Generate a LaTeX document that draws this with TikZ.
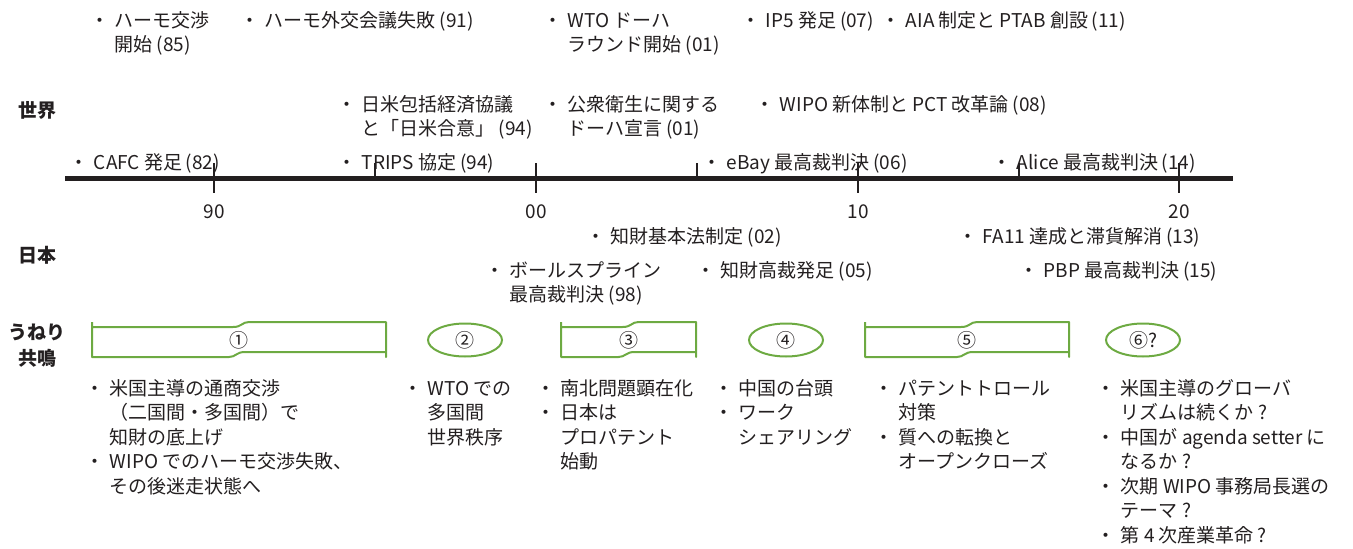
\documentclass[tikz,border=0pt]{standalone}
\usepackage{fontspec}
\usetikzlibrary{shapes.geometric}
\setmainfont{Noto Sans CJK JP}
\definecolor{rib}{HTML}{6DAA42}
\definecolor{ink}{HTML}{231F20}
\newcommand{\bl}{\rule{0pt}{17pt}・\hspace{0.3em}}
\newcommand{\ind}{\hphantom{・}\hspace{0.3em}}
\newcommand{\gp}{\hspace{0.22em}}
\newcommand{\yr}[1]{\hspace{0.2em}(#1)}
\newcommand{\myribbon}[5]{% name, L, R, cy, label
  \pgfmathsetmacro\rmid{(#2+#3)/2}
  \draw[ribbonline] (#2,#4-18) -- (#2,#4+17) -- (\rmid-10,#4+17)
    .. controls (\rmid-3,#4+17) and (\rmid-3,#4+12) .. (\rmid+6,#4+12)
    -- (#3,#4+12) -- (#3,#4+17) -- (#3,#4-18) -- (\rmid+10,#4-18)
    .. controls (\rmid+3,#4-18) and (\rmid+3,#4-13) .. (\rmid-6,#4-13)
    -- (#2,#4-13);
  \node[lab] (#1) at (\rmid,#4) {#5};
}
\begin{document}
\begin{tikzpicture}[x=1pt,y=-1pt,
  every node/.style={text=ink, font=\fontsize{19}{24.5}\selectfont},
  item/.style={anchor=north west, inner sep=0pt, align=left},
  head/.style={anchor=center, inner sep=0pt, font=\fontsize{19}{24}\selectfont\bfseries},
  year/.style={anchor=center, inner sep=0pt},
  lab/.style={anchor=center, inner sep=0pt},
  ribbonline/.style={draw=rib, line width=2pt, line join=round},
  oval/.style={draw=rib, line width=2pt, ellipse, minimum width=74pt, minimum height=33pt, inner sep=0pt},
  axis/.style={draw=ink, line width=5pt},
  tick/.style={draw=ink, line width=2.5pt}]
\useasboundingbox (0,0) rectangle (1353,549);

% row headings
\node[head] (hw) at (37,110) {世界};
\node[head] (hj) at (37,255) {日本};
\node[head] (hu) at (37,332) {うねり};
\node[head] (hk) at (37,358) {共鳴};

% world events
\node[item] (w1) at (90,10) {\bl ハーモ交渉\\\ind 開始\yr{85}};
\node[item] (w2) at (240,10) {\bl ハーモ外交会議失敗\yr{91}};
\node[item] (w3) at (543,10) {\bl WTO\gp ドーハ\\\ind ラウンド開始\yr{01}};
\node[item] (w4) at (741,10) {\bl IP5\gp 発足\yr{07}};
\node[item] (w5) at (881,10) {\bl AIA\gp 制定と\gp PTAB\gp 創設\yr{11}};
\node[item] (w6) at (337,94) {\bl 日米包括経済協議\\\ind と「日米合意」\yr{94}};
\node[item] (w7) at (543,94) {\bl 公衆衛生に関する\\\ind ドーハ宣言\yr{01}};
\node[item] (w8) at (755,94) {\bl WIPO\gp 新体制と\gp PCT\gp 改革論\yr{08}};
\node[item] (w9) at (69,152) {\bl CAFC\gp 発足\yr{82}};
\node[item] (w10) at (337,152) {\bl TRIPS\gp 協定\yr{94}};
\node[item] (w11) at (702,152) {\bl eBay\gp 最高裁判決\yr{06}};
\node[item] (w12) at (992,152) {\bl Alice\gp 最高裁判決\yr{14}};

% timeline
\draw[axis] (65,178) -- (1233,178);
\foreach \x in {214,536,858,1179} \draw[tick] (\x,163) -- (\x,193);
\foreach \x in {375,697,1019} \draw[tick] (\x,163) -- (\x,178);
\node[year] (y90) at (214,212) {90};
\node[year] (y00) at (536,212) {00};
\node[year] (y10) at (858,212) {10};
\node[year] (y20) at (1179,212) {20};

% japan events
\node[item] (j1) at (586,226) {\bl 知財基本法制定\yr{02}};
\node[item] (j2) at (958,226) {\bl FA11\gp 達成と滞貨解消\yr{13}};
\node[item] (j3) at (485,260) {\bl ボールスプライン\\\ind 最高裁判決\yr{98}};
\node[item] (j4) at (696,260) {\bl 知財高裁発足\yr{05}};
\node[item] (j5) at (1019,260) {\bl PBP\gp 最高裁判決\yr{15}};

% waves
\myribbon{r1}{92}{386}{340}{①}
\node[oval] (r2) at (465,340) {②};
\myribbon{r3}{561}{696}{340}{③}
\node[oval] (r4) at (786,340) {④};
\myribbon{r5}{865}{1069}{340}{⑤}
\node[oval] (r6) at (1143,340) {⑥?};

% lists
\node[item] (l1) at (85,378) {\bl 米国主導の通商交渉\\\ind （二国間・多国間）で\\\ind 知財の底上げ\\\bl WIPO\gp でのハーモ交渉失敗、\\\ind その後迷走状態へ};
\node[item] (l2) at (403,378) {\bl WTO\gp での\\\ind 多国間\\\ind 世界秩序};
\node[item] (l3) at (536,378) {\bl 南北問題顕在化\\\bl 日本は\\\ind プロパテント\\\ind 始動};
\node[item] (l4) at (714,378) {\bl 中国の台頭\\\bl ワーク\\\ind シェアリング};
\node[item] (l5) at (874,378) {\bl パテントトロール\\\ind 対策\\\bl 質への転換と\\\ind オープンクローズ};
\node[item] (l6) at (1096,378) {\bl 米国主導のグローバ\\\ind リズムは続くか\gp ?\\\bl 中国が\gp agenda setter\gp に\\\ind なるか\gp ?\\\bl 次期\gp WIPO\gp 事務局長選の\\\ind テーマ\gp ?\\\bl 第\gp 4\gp 次産業革命\gp ?};
\end{tikzpicture}
\end{document}
